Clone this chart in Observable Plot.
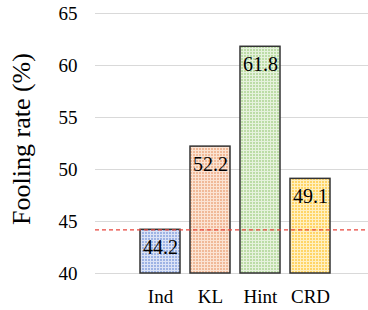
<!DOCTYPE html>
<html>
<head>
<meta charset="utf-8">
<script src="https://cdn.jsdelivr.net/npm/d3@7"></script>
<script src="https://cdn.jsdelivr.net/npm/@observablehq/plot@0.6"></script>
<style>
  html, body { margin: 0; padding: 0; background: #fff; }
  #chart { position: relative; width: 368px; height: 310px; }
  #ytitle {
    position: absolute; left: 22px; top: 139px;
    transform: translate(-50%, -50%) rotate(-90deg);
    font-family: "Liberation Serif", serif; font-size: 26px; white-space: nowrap; color: #000;
  }
</style>
</head>
<body>
<div id="chart"><div id="ytitle">Fooling rate (%)</div></div>
<script>
const categories = ["Ind", "KL", "Hint", "CRD"];
const values = [44.2, 52.2, 61.8, 49.1];
const yTicks = [40, 45, 50, 55, 60, 65];
const baseline = 44.2;
const patternIds = ["pInd", "pKL", "pHint", "pCRD"];
const baseColors = ["#9db3e4", "#f0b998", "#bcdca6", "#ffd566"];
const lightColors = ["#dbe3f6", "#fbe3d3", "#e6f2dd", "#fff0c2"];

const data = categories.map((c, i) => ({cat: c, value: values[i], fill: `url(#${patternIds[i]})`}));

const plot = Plot.plot({
  width: 368,
  height: 310,
  marginLeft: 95,
  marginRight: 0,
  marginTop: 13,
  marginBottom: 37,
  style: {fontFamily: "Liberation Serif, serif", fontSize: "19px", color: "#000", background: "transparent"},
  x: {domain: categories, range: [132.9, 336.9], paddingInner: 0.2, paddingOuter: 0.1, label: null},
  y: {domain: [40, 65], label: null},
  color: {type: "identity"},
  marks: [
    Plot.ruleY(yTicks, {stroke: "#d9d9d9", strokeWidth: 1}),
    Plot.axisY(yTicks, {tickSize: 0, tickPadding: 18, label: null, fontSize: 19}),
    Plot.axisX({tickSize: 0, tickPadding: 16, label: null, fontSize: 19}),
    Plot.barY(data, {x: "cat", y1: 40, y2: "value", fill: "fill", stroke: "#333", strokeWidth: 1.5}),
    Plot.ruleY([baseline], {stroke: "#e8453c", strokeWidth: 1.3, strokeDasharray: "4,3"}),
    Plot.text(data, {x: "cat", y: "value", text: d => d.value.toFixed(1), dy: 18, fontSize: 20, fill: "#000"})
  ]
});

const svg = d3.select(plot);
const defs = svg.insert("defs", ":first-child");
patternIds.forEach((id, i) => {
  const p = defs.append("pattern").attr("id", id).attr("patternUnits", "userSpaceOnUse")
    .attr("width", 3).attr("height", 3);
  p.append("rect").attr("width", 3).attr("height", 3).attr("fill", baseColors[i]);
  p.append("rect").attr("x", 0).attr("y", 0).attr("width", 1).attr("height", 3).attr("fill", lightColors[i]);
  p.append("rect").attr("x", 0).attr("y", 0).attr("width", 3).attr("height", 1).attr("fill", lightColors[i]);
});

document.getElementById("chart").appendChild(plot);
plot.style.position = "absolute";
plot.style.left = "0";
plot.style.top = "0";
</script>
</body>
</html>
